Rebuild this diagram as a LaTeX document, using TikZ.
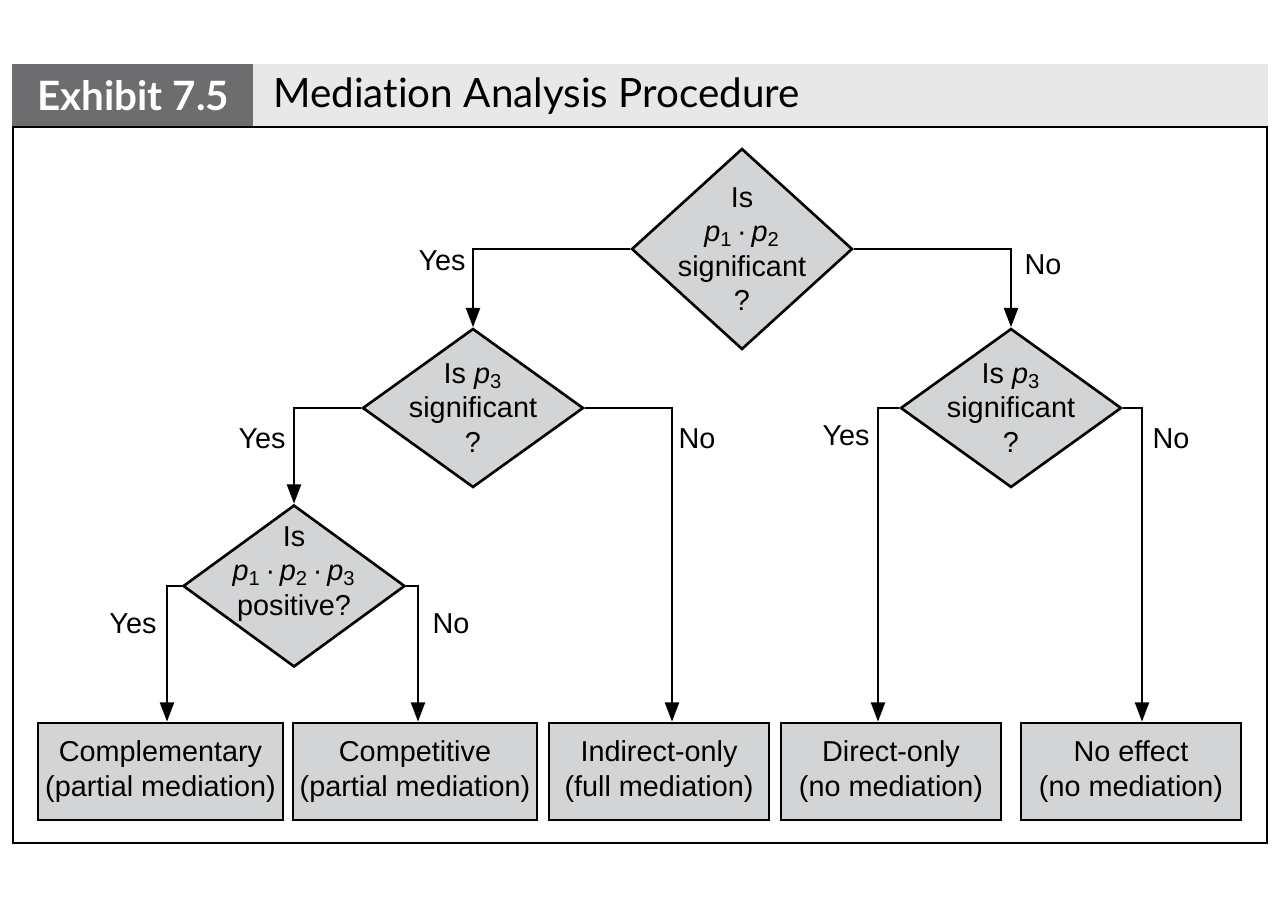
\documentclass[tikz,border=0pt]{standalone}
\usepackage{fontspec}
\setmainfont{Liberation Sans}
\newfontfamily\headfont[Ligatures=NoCommon]{Lato}
\usetikzlibrary{arrows.meta,shapes.geometric}
\newcommand{\pv}[1]{\textit{p}\textsubscript{#1}}
\definecolor{headdark}{HTML}{6D6D6F}
\definecolor{headlight}{HTML}{E8E8E8}
\definecolor{boxgray}{HTML}{D3D4D6}

\begin{document}
\begin{tikzpicture}[x=0.02cm,y=-0.02cm,
	txt/.style={font=\fontsize{16.4}{19.6}\selectfont, align=center},
	decision/.style={diamond, draw, fill=boxgray, line width=1.5pt, inner sep=0pt},
	outcome/.style={rectangle, draw, fill=boxgray, line width=1.6pt, minimum height=1.94cm, inner sep=0pt, txt},
	arr/.style={line width=1.3pt, -{Triangle[length=11pt,width=8pt]}},
	ans/.style={txt, inner sep=0pt}]
			%%%%% START %%%%%
			\def\dw{4.42cm}
			\def\boxy{771.5}
			\def\xtop{742}
			\def\ymid{408}

			\fill[white] (0,0) rectangle (1272,899);
			\useasboundingbox (0,0) rectangle (1272,899);

			% header band
			\fill[headdark] (12,64) rectangle (253,127);
			\fill[headlight] (253,64) rectangle (1268,127);
			\node[anchor=west, inner sep=0pt, text=white, font=\headfont\bfseries\fontsize{23}{26}\selectfont] (exhibit) at (37,96) {Exhibit 7.5};
			\node[anchor=west, inner sep=0pt, font=\headfont\fontsize{23}{26}\selectfont] (title) at (273,96) {Mediation Analysis Procedure};
			\draw[line width=1.5pt] (13,127) rectangle (1267,843);

			% decisions
			\node[decision, minimum width=\dw, minimum height=4.02cm, label={[txt]center:Is\\\pv{1}\,·\,\pv{2}\\significant\\?}] (d1) at (\xtop,249) {};
			\node[decision, minimum width=\dw, minimum height=3.18cm, label={[txt]center:Is \pv{3}\\significant\\?}] (d2) at (473,\ymid) {};
			\node[decision, minimum width=\dw, minimum height=3.18cm, label={[txt]center:Is \pv{3}\\significant\\?}] (d3) at (1011,\ymid) {};
			\node[decision, minimum width=4.44cm, minimum height=3.24cm, label={[txt, yshift=0.24cm]center:Is\\\pv{1}\,·\,\pv{2}\,·\,\pv{3}\\positive?}] (d4) at (294,586) {};

			% outcomes
			\node[outcome, minimum width=4.9cm] (b1) at (160.5,\boxy) {Complementary\\(partial mediation)};
			\node[outcome, minimum width=4.88cm] (b2) at (415,\boxy) {Competitive\\(partial mediation)};
			\node[outcome, minimum width=4.4cm] (b3) at (659,\boxy) {Indirect-only\\(full mediation)};
			\node[outcome, minimum width=4.4cm] (b4) at (891,\boxy) {Direct-only\\(no mediation)};
			\node[outcome, minimum width=4.4cm] (b5) at (1131,\boxy) {No effect\\(no mediation)};

			% connectors
			\draw[arr] (d1.west) -| (d2.north);
			\draw[arr] (d1.east) -| (d3.north);
			\draw[arr] (d2.west) -| (d4.north);
			\draw[arr] (d2.east) -| ([xshift=0.26cm]b3.north);
			\draw[arr] (d3.west) -| ([xshift=-0.26cm]b4.north);
			\draw[arr] (d3.east) -| ([xshift=0.22cm]b5.north);
			\draw[arr] (d4.west) -| ([xshift=0.13cm]b1.north);
			\draw[arr] (d4.east) -| ([xshift=0.06cm]b2.north);

			% answers
			\node[ans] (yes1) at (442,261) {Yes};
			\node[ans] (no1) at (1043,265) {No};
			\node[ans] (yes2) at (262,439) {Yes};
			\node[ans] (no2) at (697,439) {No};
			\node[ans] (yes3) at (846,436) {Yes};
			\node[ans] (no3) at (1171,439) {No};
			\node[ans] (yes4) at (133,624) {Yes};
			\node[ans] (no4) at (451,624) {No};
			%%%%% END %%%%%
\end{tikzpicture}
\end{document}
